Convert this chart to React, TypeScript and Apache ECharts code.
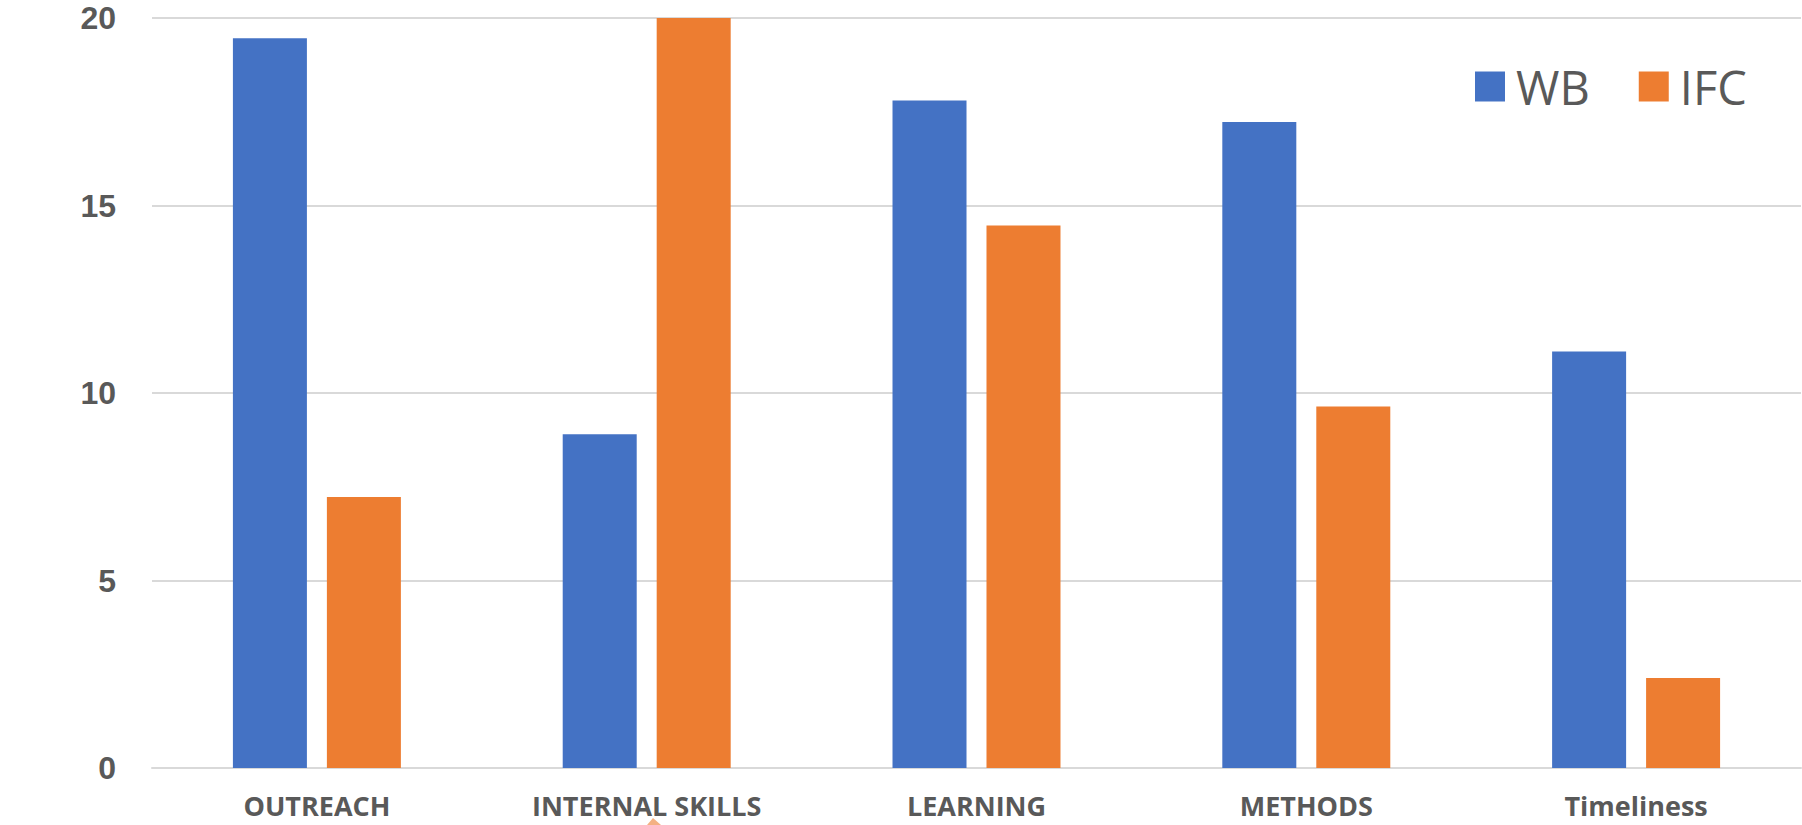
import React, { useEffect, useRef } from "react";
import * as echarts from "echarts";

const categories = ["OUTREACH", "INTERNAL SKILLS", "LEARNING", "METHODS", "Timeliness"];
const wbValues = [19.46, 8.9, 17.8, 17.23, 11.11];
const ifcValues = [7.23, 20.0, 14.47, 9.64, 2.4];
const seriesNames = ["WB", "IFC"];

export default function App() {
  const ref = useRef<HTMLDivElement>(null);
  useEffect(() => {
    if (!ref.current) return;
    const chart = echarts.init(ref.current, undefined, { renderer: "svg" });
    chart.setOption({
      animation: false,
      backgroundColor: "#ffffff",
      textStyle: { fontFamily: "Open Sans" },
      legend: {
        data: seriesNames,
        left: 1470,
        top: 58,
        itemWidth: 30,
        itemHeight: 30,
        itemGap: 49,
        icon: "rect",
        textStyle: { fontSize: 47, color: "#595959", fontFamily: "Open Sans", padding: [0, 0, 0, 6] },
      },
      grid: { left: 152, right: 1, top: 18, bottom: 57, containLabel: false },
      xAxis: {
        type: "category",
        data: categories,
        axisLine: { show: true, lineStyle: { color: "#d9d9d9", width: 2 } },
        axisTick: { show: false },
        axisLabel: {
          margin: 24,
          fontSize: 27,
          fontWeight: "bold",
          color: "#595959",
          fontFamily: "Open Sans",
          interval: 0,
        },
      },
      yAxis: {
        type: "value",
        min: 0,
        max: 20,
        interval: 5,
        axisLine: { show: false },
        axisTick: { show: false },
        splitLine: { lineStyle: { color: "#d9d9d9", width: 2 } },
        axisLabel: {
          margin: 36,
          fontSize: 32,
          lineHeight: 26,
          fontWeight: "bold",
          color: "#595959",
          fontFamily: "Liberation Sans",
        },
      },
      series: [
        {
          name: seriesNames[0],
          type: "bar",
          data: wbValues,
          barWidth: 74,
          barGap: "27%",
          itemStyle: { color: "#4472C4" },
        },
        {
          name: seriesNames[1],
          type: "bar",
          data: ifcValues,
          barWidth: 74,
          barGap: "27%",
          itemStyle: { color: "#ED7D31" },
        },
      ],
      graphic: [
        {
          type: "polygon",
          shape: { points: [[647, 825], [653, 818], [661, 825]] },
          style: { fill: "#F4B183" },
          z: 10,
        },
      ],
    });
    return () => chart.dispose();
  }, []);
  return (
    <div
      ref={ref}
      style={{ position: "fixed", left: 0, top: 0, width: 1802, height: 825 }}
    />
  );
}
